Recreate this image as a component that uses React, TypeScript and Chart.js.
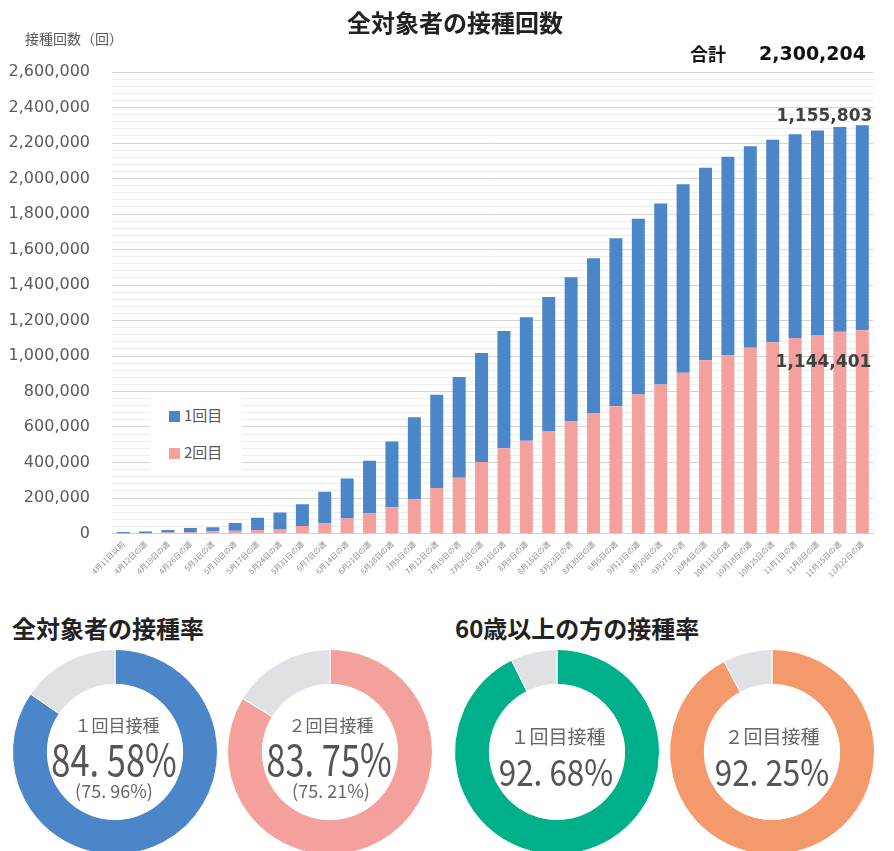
import React, { useEffect, useRef } from 'react';
import { Chart, registerables } from 'chart.js';

Chart.register(...registerables);

// ---------- data ----------
const categories = [
  '4月11日以前', '4月12日の週', '4月19日の週', '4月26日の週', '5月3日の週', '5月10日の週',
  '5月17日の週', '5月24日の週', '5月31日の週', '6月7日の週', '6月14日の週', '6月21日の週',
  '6月28日の週', '7月5日の週', '7月12日の週', '7月19日の週', '7月26日の週', '8月2日の週',
  '8月9日の週', '8月16日の週', '8月23日の週', '8月30日の週', '9月6日の週', '9月13日の週',
  '9月20日の週', '9月27日の週', '10月4日の週', '10月11日の週', '10月18日の週', '10月25日の週',
  '11月1日の週', '11月8日の週', '11月15日の週', '11月22日の週',
];

// 1回目 (cumulative)
const firstDose = [
  7500, 9000, 15000, 22000, 23000, 43000, 69000, 93000, 123000, 177000, 226000, 296000,
  371000, 462000, 526000, 567000, 614000, 661000, 696000, 755000, 809000, 875000, 947000,
  990000, 1019000, 1061000, 1084000, 1117000, 1135000, 1142000, 1148000, 1152000, 1154000, 1155803,
];

// 2回目 (cumulative)
const secondDose = [
  1500, 2000, 5000, 9000, 12000, 16000, 20000, 25000, 42000, 58000, 84000, 114000,
  148000, 193000, 256000, 314000, 403000, 480000, 523000, 578000, 634000, 676000, 717000,
  783000, 840000, 906000, 976000, 1005000, 1047000, 1077000, 1102000, 1119000, 1136000, 1144401,
];

const yMax = 2600000;
const yMinorStep = 40000;
const yLabelStep = 200000;

const allFirstRates = [84.58, 75.96];   // 全対象者 1回目 (main, in parentheses)
const allSecondRates = [83.75, 75.21];  // 全対象者 2回目
const seniorRates = [92.68, 92.25];     // 60歳以上 1回目, 2回目

const BLUE = '#4a86c8';
const PINK = '#f4a09d';
const GREEN = '#00b08a';
const ORANGE = '#f4996c';
const GRAY = '#dfe1e4';

const FONT_JP = '"Noto Sans CJK JP", "Noto Sans", sans-serif';
const FONT_NUM = '"DejaVu Sans", sans-serif';

const fmt = (v: number) => v.toLocaleString('en-US');
const fmtRate = (v: number) => v.toFixed(2).replace('.', '. ') + '%';

const lastLabels = {
  id: 'lastLabels',
  afterDatasetsDraw(chart: any) {
    const n = categories.length - 1;
    const pinkBar = chart.getDatasetMeta(0).data[n];
    const blueBar = chart.getDatasetMeta(1).data[n];
    if (!pinkBar || !blueBar) return;
    const ctx = chart.ctx;
    ctx.save();
    ctx.font = 'bold 17px ' + FONT_NUM;
    ctx.fillStyle = '#404040';
    ctx.textAlign = 'right';
    ctx.textBaseline = 'alphabetic';
    ctx.fillText(fmt(firstDose[n]), blueBar.x + 10, blueBar.y - 4);
    ctx.fillText(fmt(secondDose[n]), pinkBar.x + 9, pinkBar.y + 37);
    ctx.restore();
  },
};

function BarChart() {
  const ref = useRef<HTMLCanvasElement | null>(null);
  useEffect(() => {
    if (!ref.current) return;
    const chart = new Chart(ref.current, {
      type: 'bar',
      data: {
        labels: categories,
        datasets: [
          { label: '2回目', data: secondDose, backgroundColor: PINK, barPercentage: 0.58, categoryPercentage: 1 },
          { label: '1回目', data: firstDose, backgroundColor: BLUE, barPercentage: 0.58, categoryPercentage: 1 },
        ],
      },
      options: {
        animation: false,
        responsive: false,
        maintainAspectRatio: false,
        layout: { padding: { top: 72, right: 20.5, bottom: 9.5, left: 0 } },
        plugins: { legend: { display: false }, tooltip: { enabled: false }, title: { display: false } },
        scales: {
          x: {
            stacked: true,
            grid: { display: false, drawTicks: false },
            border: { display: true, color: '#cfcfcf' },
            ticks: {
              autoSkip: false,
              maxRotation: 45,
              minRotation: 45,
              padding: 6,
              color: '#8a8a8a',
              font: { family: FONT_JP, size: 7.5 },
            },
            afterFit: (s: any) => { s.height = 57; },
          },
          y: {
            stacked: true,
            min: 0,
            max: yMax,
            border: { display: false },
            grid: {
              drawTicks: false,
              lineWidth: 1,
              color: (c: any) => (c.tick && c.tick.value % yLabelStep === 0 ? '#d4d4d4' : '#ededed'),
            },
            ticks: {
              stepSize: yMinorStep,
              autoSkip: false,
              padding: 22,
              color: '#595959',
              font: { family: FONT_NUM, size: 16 },
              callback: (v: any) => (Number(v) % yLabelStep === 0 ? fmt(Number(v)) : ''),
            },
            afterFit: (s: any) => { s.width = 112; },
          },
        },
      } as any,
      plugins: [lastLabels],
    });
    return () => chart.destroy();
  }, []);
  return <canvas ref={ref} width={894} height={600} style={{ position: 'absolute', left: 0, top: 0 }} />;
}

function Donut({ cx, cy, value, color }: { cx: number; cy: number; value: number; color: string }) {
  const ref = useRef<HTMLCanvasElement | null>(null);
  const size = 206;
  useEffect(() => {
    if (!ref.current) return;
    const chart = new Chart(ref.current, {
      type: 'doughnut',
      data: {
        labels: ['接種', '未接種'],
        datasets: [{ data: [value, 100 - value], backgroundColor: [color, GRAY], borderColor: '#ffffff', borderWidth: 1 }],
      },
      options: {
        animation: false,
        responsive: false,
        maintainAspectRatio: false,
        cutout: '66%',
        layout: { padding: 0 },
        plugins: { legend: { display: false }, tooltip: { enabled: false } },
      } as any,
    });
    return () => chart.destroy();
  }, [value, color]);
  return (
    <canvas
      ref={ref}
      width={size}
      height={size}
      style={{ position: 'absolute', left: cx - size / 2, top: cy - size / 2 }}
    />
  );
}

const centered = (x: number, y: number, extra: React.CSSProperties = {}): React.CSSProperties => ({
  position: 'absolute',
  left: x,
  top: y,
  transform: 'translate(-50%, -50%)',
  whiteSpace: 'nowrap',
  lineHeight: 1,
  ...extra,
});

function BigNumber({ x, y, text, size, sx }: { x: number; y: number; text: string; size: number; sx: number }) {
  return (
    <div
      style={centered(x, y, {
        fontSize: size,
        color: '#555',
        fontFamily: FONT_JP,
        transform: `translate(-50%, -50%) scaleX(${sx})`,
      })}
    >
      {text}
    </div>
  );
}

export default function App() {
  useEffect(() => {
    document.body.style.margin = '0';
  }, []);
  const n = categories.length - 1;
  const total = firstDose[n] + secondDose[n];

  return (
    <div
      style={{
        position: 'relative',
        width: 894,
        height: 851,
        overflow: 'hidden',
        background: '#fff',
        fontFamily: FONT_JP,
      }}
    >
      <BarChart />

      {/* chart title */}
      <div style={centered(455, 22, { fontSize: 24, fontWeight: 700, color: '#222' })}>全対象者の接種回数</div>
      <div style={{ position: 'absolute', left: 25, top: 31, fontSize: 14, color: '#595959', lineHeight: 1 }}>
        接種回数（回）
      </div>
      <div style={{ position: 'absolute', left: 690, top: 44, fontSize: 18, fontWeight: 700, color: '#111', lineHeight: 1 }}>
        合計
      </div>
      <div
        style={{
          position: 'absolute',
          right: 894 - 866,
          top: 44,
          fontSize: 19,
          fontWeight: 700,
          color: '#111',
          fontFamily: FONT_NUM,
          lineHeight: 1,
        }}
      >
        {fmt(total)}
      </div>

      {/* legend */}
      <div style={{ position: 'absolute', left: 150, top: 398, width: 92, height: 72, background: '#fff' }}>
        <div style={{ position: 'absolute', left: 19, top: 13, width: 11, height: 11, background: BLUE }} />
        <div style={{ position: 'absolute', left: 34, top: 9, fontSize: 15, color: '#555', lineHeight: 1 }}>1回目</div>
        <div style={{ position: 'absolute', left: 19, top: 50, width: 11, height: 11, background: PINK }} />
        <div style={{ position: 'absolute', left: 34, top: 46, fontSize: 15, color: '#555', lineHeight: 1 }}>2回目</div>
      </div>

      {/* section headings */}
      <div style={{ position: 'absolute', left: 12, top: 616, fontSize: 24, fontWeight: 700, color: '#222', lineHeight: 1 }}>
        全対象者の接種率
      </div>
      <div style={{ position: 'absolute', left: 455, top: 616, fontSize: 24, fontWeight: 700, color: '#222', lineHeight: 1 }}>
        60歳以上の方の接種率
      </div>

      {/* donuts */}
      <Donut cx={115} cy={752} value={allFirstRates[0]} color={BLUE} />
      <Donut cx={330} cy={752} value={allSecondRates[0]} color={PINK} />
      <Donut cx={557} cy={752} value={seniorRates[0]} color={GREEN} />
      <Donut cx={772} cy={752} value={seniorRates[1]} color={ORANGE} />

      {/* donut texts: 全対象者 */}
      <div style={centered(117, 724, { fontSize: 17, color: '#666' })}>１回目接種</div>
      <BigNumber x={114} y={757} text={fmtRate(allFirstRates[0])} size={43} sx={0.8} />
      <div style={centered(114, 790, { fontSize: 18, color: '#666' })}>({fmtRate(allFirstRates[1])})</div>

      <div style={centered(331, 724, { fontSize: 17, color: '#666' })}>２回目接種</div>
      <BigNumber x={329} y={757} text={fmtRate(allSecondRates[0])} size={43} sx={0.8} />
      <div style={centered(331, 790, { fontSize: 18, color: '#666' })}>({fmtRate(allSecondRates[1])})</div>

      {/* donut texts: 60歳以上 */}
      <div style={centered(558, 735, { fontSize: 19, color: '#666' })}>１回目接種</div>
      <BigNumber x={556} y={770} text={fmtRate(seniorRates[0])} size={37} sx={0.85} />

      <div style={centered(772, 735, { fontSize: 19, color: '#666' })}>２回目接種</div>
      <BigNumber x={772} y={770} text={fmtRate(seniorRates[1])} size={37} sx={0.85} />
    </div>
  );
}
